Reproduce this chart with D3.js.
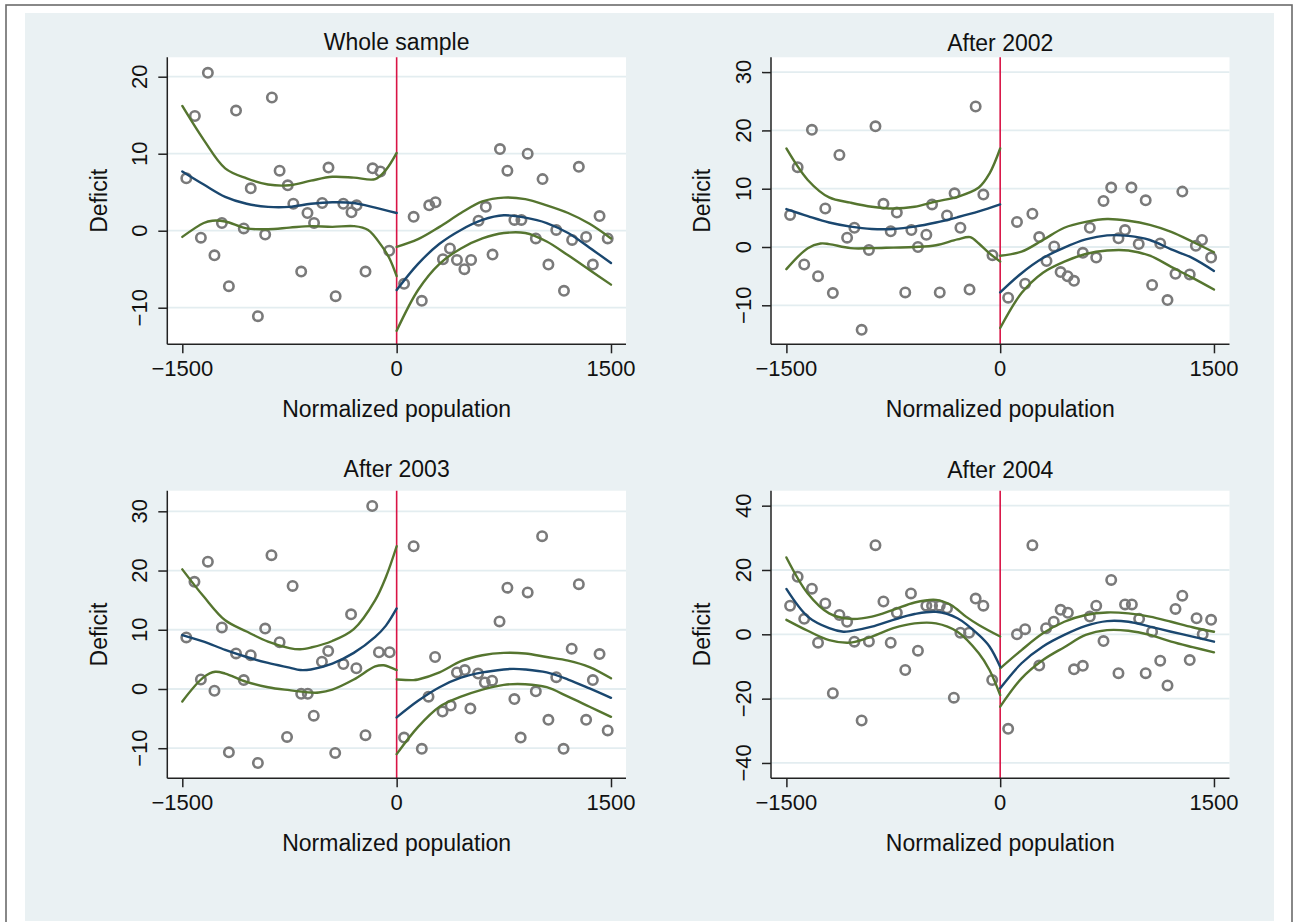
<!DOCTYPE html>
<html>
<head>
<meta charset="utf-8">
<script src="https://cdn.jsdelivr.net/npm/d3@7"></script>
<style>
  html, body { margin: 0; padding: 0; background: #ffffff; }
  svg { display: block; }
</style>
</head>
<body>
<svg id="chart" width="1295" height="922"></svg>
<script>
// ---------------- DATA ----------------
const titles = ["Whole sample", "After 2002", "After 2003", "After 2004"];
const xLabel = "Normalized population";
const yLabel = "Deficit";
const xTicks = [-1500, 0, 1500];
const yTicks1 = [-10, 0, 10, 20];
const yTicks2 = [-10, 0, 10, 20, 30];
const yTicks3 = [-10, 0, 10, 20, 30];
const yTicks4 = [-40, -20, 0, 20, 40];

// Panel 1: Whole sample
const p1x = [-1472,-1412,-1370,-1321,-1275,-1223,-1174,-1124,-1070,-1021,-971,-920,-873,-819,-762,-723,-668,-624,-578,-521,-477,-427,-373,-316,-280,-218,-168,-114,-52,
             52,119,176,228,272,324,373,422,474,521,573,624,671,723,775,824,873,917,974,1021,1062,1117,1171,1228,1275,1326,1373,1420,1477];
const p1y = [6.8,14.9,-0.9,20.5,-3.2,1.0,-7.2,15.6,0.3,5.5,-11.1,-0.5,17.3,7.8,5.9,3.5,-5.3,2.3,1.0,3.6,8.2,-8.5,3.5,2.4,3.3,-5.3,8.1,7.7,-2.6,
             -6.9,1.8,-9.1,3.3,3.7,-3.7,-2.3,-3.8,-5.0,-3.8,1.3,3.1,-3.1,10.6,7.8,1.4,1.4,10.0,-1.0,6.7,-4.4,0.1,-7.8,-1.2,8.3,-0.8,-4.4,1.9,-1.0];
const p1FitL = [[-1500,7.7],[-1350,6.0],[-1200,4.4],[-1050,3.5],[-900,3.1],[-750,3.1],[-600,3.5],[-450,3.7],[-300,3.6],[-150,3.0],[0,2.3]];
const p1UpL  = [[-1500,16.2],[-1350,11.8],[-1200,8.1],[-1050,6.8],[-900,6.0],[-750,5.9],[-600,6.5],[-450,7.0],[-300,6.9],[-150,6.7],[-75,7.9],[0,10.1]];
const p1LoL  = [[-1500,-0.8],[-1350,1.0],[-1290,1.3],[-1200,1.2],[-1050,0.3],[-900,0.2],[-750,0.4],[-600,0.6],[-450,0.5],[-300,0.6],[-200,0.1],[-100,-2.1],[-50,-3.6],[0,-5.9]];
const p1FitR = [[0,-7.7],[150,-4.3],[300,-1.7],[450,0.1],[600,1.4],[750,2.0],[900,1.7],[1050,1.0],[1200,-0.3],[1350,-2.2],[1500,-4.2]];
const p1UpR  = [[0,-2.1],[150,-1.1],[300,0.5],[450,2.3],[600,3.8],[750,4.3],[900,4.1],[1050,3.3],[1200,2.3],[1350,0.9],[1500,-1.0]];
const p1LoR  = [[0,-13.0],[150,-7.7],[300,-4.3],[450,-2.3],[600,-1.0],[750,-0.3],[900,-0.3],[1050,-1.4],[1200,-3.2],[1350,-5.1],[1500,-7.0]];

// Panel 2: After 2002
const p2x = [-1474,-1421,-1375,-1321,-1278,-1227,-1174,-1128,-1074,-1023,-972,-921,-875,-819,-768,-725,-666,-623,-577,-518,-478,-424,-373,-320,-279,-215,-172,-118,-54,
             56,118,175,226,274,325,379,424,473,518,580,629,674,725,779,830,876,921,972,1021,1066,1123,1174,1230,1278,1330,1373,1416,1480];
const p2y = [5.5,13.7,-3.0,20.1,-5.0,6.6,-7.9,15.8,1.6,3.3,-14.2,-0.5,20.7,7.4,2.7,5.9,-7.8,2.9,0.0,2.1,7.3,-7.8,5.4,9.2,3.3,-7.3,24.1,9.0,-1.4,
             -8.7,4.3,-6.3,5.7,1.7,-2.4,0.1,-4.3,-5.0,-5.8,-1.0,3.3,-1.8,7.9,10.2,1.5,2.9,10.2,0.5,8.0,-6.5,0.6,-9.1,-4.6,9.5,-4.7,0.2,1.2,-1.8];
const p2FitL = [[-1500,6.5],[-1350,5.3],[-1200,4.2],[-1050,3.5],[-900,3.1],[-750,3.1],[-600,3.5],[-450,4.2],[-300,5.1],[-150,6.1],[0,7.3]];
const p2UpL  = [[-1500,16.9],[-1350,11.5],[-1200,8.5],[-1050,7.6],[-900,6.9],[-750,6.6],[-600,6.9],[-450,7.8],[-300,8.6],[-150,10.2],[-75,12.6],[0,16.9]];
const p2LoL  = [[-1500,-3.8],[-1350,-0.2],[-1260,0.6],[-1200,0.5],[-1050,-0.2],[-900,-0.2],[-750,-0.1],[-600,0.0],[-450,0.3],[-300,1.3],[-210,1.7],[-150,0.6],[-75,-1.1],[0,-2.5]];
const p2FitR = [[0,-7.8],[150,-4.5],[300,-1.9],[450,-0.1],[600,1.3],[750,2.0],[900,1.9],[1050,1.2],[1200,-0.4],[1350,-1.9],[1500,-4.1]];
const p2UpR  = [[0,-1.5],[150,-0.8],[300,1.2],[450,3.3],[600,4.3],[750,4.8],[900,4.5],[1050,3.8],[1200,2.6],[1350,0.9],[1500,-0.9]];
const p2LoR  = [[0,-13.9],[150,-7.9],[300,-4.4],[450,-2.5],[600,-1.2],[750,-0.6],[900,-0.6],[1050,-1.5],[1200,-3.4],[1350,-5.3],[1500,-7.3]];

// Panel 3: After 2003
const p3x = [-1472,-1415,-1370,-1321,-1275,-1223,-1174,-1124,-1070,-1021,-971,-920,-876,-819,-767,-728,-668,-622,-580,-523,-479,-430,-373,-319,-282,-218,-171,-124,-49,
             52,119,176,223,269,321,378,422,477,516,570,617,668,720,775,824,868,917,974,1018,1062,1117,1168,1225,1275,1326,1373,1420,1477];
const p3y = [8.7,18.1,1.6,21.5,-0.3,10.4,-10.7,6.0,1.5,5.7,-12.5,10.2,22.6,7.9,-8.1,17.4,-0.8,-0.8,-4.5,4.6,6.4,-10.8,4.2,12.6,3.5,-7.8,30.9,6.2,6.2,
             -8.2,24.1,-10.1,-1.3,5.4,-3.8,-2.8,2.8,3.2,-3.3,2.6,1.1,1.4,11.4,17.1,-1.7,-8.2,16.3,-0.4,25.8,-5.2,2.0,-10.1,6.8,17.7,-5.2,1.5,5.9,-7.0];
const p3FitL = [[-1500,9.1],[-1350,8.0],[-1200,6.6],[-1050,5.4],[-900,4.4],[-750,3.6],[-675,3.2],[-600,3.3],[-450,4.3],[-300,6.1],[-150,8.8],[-75,10.7],[0,13.6]];
const p3UpL  = [[-1500,20.2],[-1350,15.6],[-1200,11.6],[-1050,9.7],[-900,8.0],[-750,6.9],[-675,6.7],[-600,7.0],[-450,8.1],[-300,10.1],[-150,15.0],[-75,18.9],[0,24.1]];
const p3LoL  = [[-1500,-2.1],[-1350,2.0],[-1270,2.9],[-1200,2.6],[-1050,1.2],[-900,0.3],[-750,-0.2],[-600,-0.6],[-545,-0.6],[-450,-0.1],[-300,1.6],[-150,3.8],[-90,4.0],[-40,3.6],[0,3.2]];
const p3FitR = [[0,-4.8],[150,-2.0],[300,0.3],[450,1.9],[600,2.8],[750,3.3],[815,3.4],[900,3.3],[1050,2.8],[1200,1.6],[1350,0.1],[1500,-1.5]];
const p3UpR  = [[0,1.6],[115,1.5],[150,1.6],[300,2.8],[450,4.7],[600,5.7],[750,6.1],[900,6.0],[1050,5.4],[1200,4.8],[1350,3.7],[1500,1.8]];
const p3LoR  = [[0,-11.0],[150,-6.4],[300,-3.0],[450,-1.3],[600,-0.1],[750,0.7],[900,0.8],[1050,0.3],[1200,-1.3],[1350,-3.0],[1500,-4.7]];

// Panel 4: After 2004
const p4x = [-1474,-1421,-1375,-1321,-1278,-1227,-1174,-1128,-1074,-1023,-972,-921,-875,-819,-768,-725,-666,-626,-577,-518,-478,-424,-373,-325,-279,-218,-172,-118,-56,
             56,118,175,226,274,322,376,424,475,518,580,629,674,725,779,830,876,924,975,1021,1066,1123,1174,1230,1278,1330,1378,1421,1480];
const p4y = [8.9,17.9,4.8,14.2,-2.6,9.6,-18.3,6.0,3.9,-2.3,-26.8,-2.2,27.7,10.2,-2.6,6.7,-11.1,12.7,-5.1,8.9,8.9,8.9,8.1,-19.7,0.5,0.5,11.1,8.9,-14.2,
             -29.4,0.0,1.6,27.7,-9.7,1.9,3.9,7.6,6.7,-10.9,-9.8,5.5,8.9,-2.1,16.9,-12.1,9.3,9.3,4.8,-12.1,0.8,-8.2,-15.9,7.9,12.0,-8.0,5.0,0.0,4.5];
const p4FitL = [[-1500,14.1],[-1350,5.5],[-1200,1.9],[-1100,0.8],[-1050,1.0],[-900,2.4],[-750,4.5],[-600,6.3],[-450,7.0],[-300,5.0],[-150,-0.2],[-75,-3.8],[0,-10.1]];
const p4UpL  = [[-1500,23.9],[-1350,12.7],[-1200,6.5],[-1050,4.8],[-900,5.5],[-750,7.6],[-600,9.9],[-450,10.7],[-345,9.1],[-240,5.5],[-150,2.9],[0,-0.7]];
const p4LoL  = [[-1500,4.5],[-1350,1.1],[-1200,-1.8],[-1050,-2.6],[-900,-0.7],[-750,1.9],[-600,3.4],[-450,3.4],[-300,0.8],[-150,-5.9],[-75,-11.1],[0,-18.9]];
const p4FitR = [[0,-16.8],[150,-9.0],[300,-3.8],[450,-0.2],[600,2.6],[750,4.1],[900,3.9],[1050,2.4],[1200,0.8],[1350,-0.7],[1500,-2.3]];
const p4UpR  = [[0,-10.6],[150,-4.9],[300,0.3],[450,3.9],[600,6.0],[750,6.8],[900,6.5],[1050,5.5],[1200,3.9],[1350,2.2],[1500,0.8]];
const p4LoR  = [[0,-22.5],[150,-13.7],[300,-8.0],[450,-4.0],[600,-0.2],[750,1.3],[900,1.1],[1050,-0.2],[1200,-2.3],[1350,-4.0],[1500,-5.6]];

// ---------------- LAYOUT / STYLE ----------------
const FONT = "'Liberation Sans', Arial, Helvetica, sans-serif";
const C = {
  bg: "#eaf1f3", grid: "#e3edf0", axis: "#222222", marker: "#7a7a7a",
  fit: "#1a476f", ci: "#55752f", vline: "#d91446", frame: "#6b6b6b"
};

const panels = [
  { title: titles[0], left: 167.3, right: 626,    top: 57.3,  bottom: 344.3, xd: [-1605, 1605], yd: [-14.75, 22.52], yt: yTicks1,
    x: p1x, y: p1y, fitL: p1FitL, upL: p1UpL, loL: p1LoL, fitR: p1FitR, upR: p1UpR, loR: p1LoR, titleY: 42 },
  { title: titles[1], left: 771,   right: 1229.5, top: 57.3,  bottom: 344.3, xd: [-1608, 1609], yd: [-16.69, 32.54], yt: yTicks2,
    x: p2x, y: p2y, fitL: p2FitL, upL: p2UpL, loL: p2LoL, fitR: p2FitR, upR: p2UpR, loR: p2LoR, titleY: 42.5 },
  { title: titles[2], left: 167.3, right: 626,    top: 490.7, bottom: 778.3, xd: [-1605, 1605], yd: [-15.08, 33.48], yt: yTicks3,
    x: p3x, y: p3y, fitL: p3FitL, upL: p3UpL, loL: p3LoL, fitR: p3FitR, upR: p3UpR, loR: p3LoR, titleY: 469 },
  { title: titles[3], left: 771,   right: 1229.5, top: 490.7, bottom: 778.3, xd: [-1608, 1609], yd: [-44.77, 44.65], yt: yTicks4,
    x: p4x, y: p4y, fitL: p4FitL, upL: p4UpL, loL: p4LoL, fitR: p4FitR, upR: p4UpR, loR: p4LoR, titleY: 470 }
];

const svg = d3.select("#chart");

// outer frame and background
svg.append("rect").attr("x", 6).attr("y", 5).attr("width", 1286).attr("height", 940)
  .attr("fill", "#ffffff").attr("stroke", C.frame).attr("stroke-width", 1.6);
svg.append("rect").attr("x", 25).attr("y", 13).attr("width", 1249).attr("height", 908)
  .attr("fill", C.bg);

const fmt = d => d < 0 ? "\u2212" + Math.abs(d) : String(d);

panels.forEach(p => {
  const g = svg.append("g");
  const x = d3.scaleLinear().domain(p.xd).range([p.left, p.right]);
  const y = d3.scaleLinear().domain(p.yd).range([p.bottom, p.top]);

  // plot region
  g.append("rect").attr("x", p.left).attr("y", p.top)
    .attr("width", p.right - p.left).attr("height", p.bottom - p.top).attr("fill", "#ffffff");

  // grid lines
  g.selectAll(".grid").data(p.yt).join("line")
    .attr("x1", p.left).attr("x2", p.right)
    .attr("y1", d => y(d)).attr("y2", d => y(d))
    .attr("stroke", C.grid).attr("stroke-width", 1.8);

  // red vertical line at 0
  g.append("line").attr("x1", x(0)).attr("x2", x(0)).attr("y1", p.top).attr("y2", p.bottom)
    .attr("stroke", C.vline).attr("stroke-width", 1.6);

  // scatter points
  const pts = p.x.map((v, i) => [v, p.y[i]]);
  g.selectAll(".pt").data(pts).join("circle")
    .attr("cx", d => x(d[0])).attr("cy", d => y(d[1])).attr("r", 4.7)
    .attr("fill", "none").attr("stroke", C.marker).attr("stroke-width", 2.6);

  // curves
  const line = d3.line().x(d => x(d[0])).y(d => y(d[1])).curve(d3.curveCatmullRom.alpha(0.5));
  [p.upL, p.loL, p.upR, p.loR].forEach(arr => {
    g.append("path").attr("d", line(arr)).attr("fill", "none")
      .attr("stroke", C.ci).attr("stroke-width", 2.4).attr("stroke-linecap", "round");
  });
  [p.fitL, p.fitR].forEach(arr => {
    g.append("path").attr("d", line(arr)).attr("fill", "none")
      .attr("stroke", C.fit).attr("stroke-width", 2.4).attr("stroke-linecap", "round");
  });

  // axes
  const yAxis = d3.axisLeft(y).tickValues(p.yt).tickSize(9).tickFormat("");
  const ya = g.append("g").attr("transform", `translate(${p.left},0)`).call(yAxis);
  ya.select(".domain").attr("d", `M0,${p.top}V${p.bottom}`).attr("stroke", C.axis).attr("stroke-width", 1.5);
  ya.selectAll(".tick line").attr("stroke", C.axis).attr("stroke-width", 1.5);

  const xAxis = d3.axisBottom(x).tickValues(xTicks).tickSize(9).tickFormat("");
  const xa = g.append("g").attr("transform", `translate(0,${p.bottom})`).call(xAxis);
  xa.select(".domain").attr("d", `M${p.left},0H${p.right}`).attr("stroke", C.axis).attr("stroke-width", 1.5);
  xa.selectAll(".tick line").attr("stroke", C.axis).attr("stroke-width", 1.5);

  // y tick labels (rotated)
  g.selectAll(".ylab").data(p.yt).join("text")
    .attr("transform", d => `translate(${p.left - 28},${y(d)}) rotate(-90)`)
    .attr("text-anchor", "middle").attr("dy", "0.36em")
    .attr("font-family", FONT).attr("font-size", 22).attr("fill", "#111")
    .text(fmt);

  // x tick labels
  g.selectAll(".xlab").data(xTicks).join("text")
    .attr("x", d => x(d)).attr("y", p.bottom + 24).attr("dy", "0.36em")
    .attr("text-anchor", "middle")
    .attr("font-family", FONT).attr("font-size", 22).attr("fill", "#111")
    .text(fmt);

  // axis titles
  g.append("text")
    .attr("x", (p.left + p.right) / 2).attr("y", p.bottom + 64).attr("dy", "0.36em")
    .attr("text-anchor", "middle").attr("font-family", FONT).attr("font-size", 23).attr("fill", "#111")
    .text(xLabel);
  g.append("text")
    .attr("transform", `translate(${p.left - 69},${(p.top + p.bottom) / 2}) rotate(-90)`)
    .attr("text-anchor", "middle").attr("dy", "0.36em")
    .attr("font-family", FONT).attr("font-size", 23).attr("fill", "#111")
    .text(yLabel);

  // panel title
  g.append("text")
    .attr("x", (p.left + p.right) / 2).attr("y", p.titleY).attr("dy", "0.36em")
    .attr("text-anchor", "middle").attr("font-family", FONT).attr("font-size", 23).attr("fill", "#111")
    .text(p.title);
});
</script>
</body>
</html>
